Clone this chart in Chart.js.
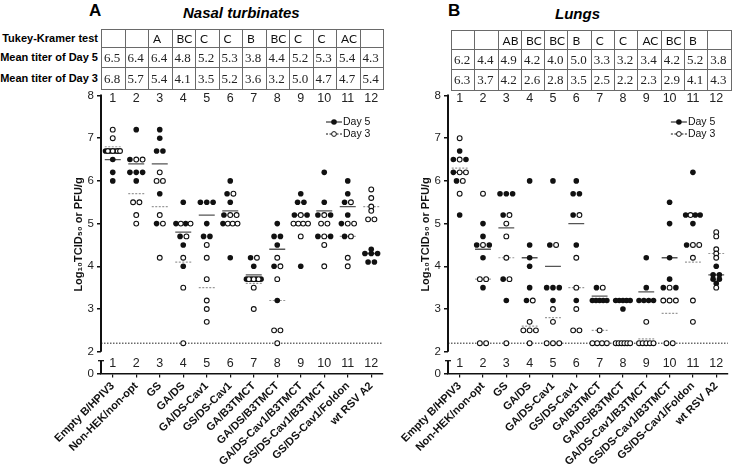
<!DOCTYPE html>
<html><head><meta charset="utf-8">
<script src="https://cdn.jsdelivr.net/npm/chart.js@4.4.0/dist/chart.umd.min.js"></script>
<style>
html,body{margin:0;padding:0;background:#fff;}
body{width:733px;height:471px;overflow:hidden;position:relative;font-family:"Liberation Sans",Arial,sans-serif;color:#000;}
canvas{position:absolute;top:0;}
.panel{position:absolute;font-weight:bold;font-size:17px;line-height:17px;}
.ttl{position:absolute;font-weight:bold;font-style:italic;font-size:15px;line-height:17px;white-space:nowrap;}
.rowlab{position:absolute;left:0;width:98px;text-align:right;font-weight:bold;font-size:11px;white-space:nowrap;}
table{position:absolute;border-collapse:collapse;table-layout:fixed;}
td{border:1px solid #6a6a6a;padding:0 0 0 2px;white-space:nowrap;overflow:hidden;box-sizing:border-box;}
td.v{font-family:"Liberation Serif",serif;font-size:13px;color:#222;}
td.t{font-family:Lato,"Open Sans",sans-serif;font-size:12px;padding-left:4px;color:#111;}
</style>
</head><body>
<div class="panel" style="left:89px;top:2px">A</div>
<div class="ttl" style="left:183px;top:4px">Nasal turbinates</div>
<div class="panel" style="left:448px;top:2px">B</div>
<div class="ttl" style="left:555px;top:5px">Lungs</div>
<div class="rowlab" style="top:32px">Tukey-Kramer test</div>
<div class="rowlab" style="top:51px">Mean titer of Day 5</div>
<div class="rowlab" style="top:72px">Mean titer of Day 3</div>
<canvas id="cA" width="390" height="471" style="left:0"></canvas>
<canvas id="cB" width="367" height="471" style="left:366px"></canvas>
<script>
// ---------------- data ----------------
const groups = ['Empty B/HPIV3','Non-HEK/non-opt','GS','GA/DS','GA/DS-Cav1','GS/DS-Cav1','GA/B3TMCT','GA/DS/B3TMCT','GA/DS-Cav1/B3TMCT','GS/DS-Cav1/B3TMCT','GS/DS-Cav1/Foldon','wt RSV A2'];
const groupNumbers = ['1','2','3','4','5','6','7','8','9','10','11','12'];
const yTickValues = [2,3,4,5,6,7,8];
const lodValue = 2.2;

const nasalTukey = ['','','A','BC','C','C','B','BC','C','C','AC',''];
const nasalMeanDay5 = [6.5,6.4,6.4,4.8,5.2,5.3,3.8,4.4,5.2,5.3,5.4,4.3];
const nasalMeanDay3 = [6.8,5.7,5.4,4.1,3.5,5.2,3.6,3.2,5.0,4.7,4.7,5.4];
const nasalDay5 = [
  [6.7,6.7,6.7,6.5,6.2,6.0],
  [7.2,6.5,6.2,6.2,6.2,6.0],
  [7.2,7.0,6.7,6.7,5.7,5.0],
  [5.5,5.0,5.0,4.7,4.5,4.0],
  [5.5,5.5,5.5,5.0,4.7,4.7],
  [6.0,5.7,5.5,5.2,5.0,4.2],
  [4.2,4.0,3.7,3.7,3.7,3.7],
  [5.0,4.7,4.7,4.5,4.0,3.2],
  [5.7,5.5,5.5,5.2,5.2,4.0],
  [6.2,5.5,5.2,5.2,4.7,4.7],
  [6.0,5.7,5.5,5.2,5.0,4.7],
  [4.4,4.3,4.3,4.3,4.1,4.1]
];
const nasalDay3 = [
  [7.2,7.0,6.7,6.7,6.7,6.7],
  [6.5,6.5,5.5,5.5,5.2,5.0],
  [6.2,6.0,6.0,5.2,5.0,4.2],
  [5.0,5.0,4.7,4.2,3.5,2.2],
  [4.5,4.2,3.7,3.2,3.0,2.7],
  [5.7,5.2,5.2,5.0,5.0,5.0],
  [4.2,3.7,3.7,3.7,3.5,3.0],
  [4.2,4.0,3.7,2.5,2.5,2.2],
  [5.2,5.0,5.0,5.0,5.0,4.7],
  [5.2,5.0,5.0,4.7,4.5,4.0],
  [5.5,5.0,5.0,4.7,4.2,4.0],
  [5.8,5.6,5.4,5.3,5.1,5.1]
];

const lungTukey = ['','','AB','BC','BC','B','C','C','AC','BC','B',''];
const lungMeanDay5 = [6.2,4.4,4.9,4.2,4.0,5.0,3.3,3.2,3.4,4.2,5.2,3.8];
const lungMeanDay3 = [6.3,3.7,4.2,2.6,2.8,3.5,2.5,2.2,2.3,2.9,4.1,4.3];
const lungDay5 = [
  [6.7,6.5,6.5,6.2,6.0,5.2],
  [5.0,4.7,4.5,4.5,4.2,3.5],
  [5.7,5.7,5.7,5.2,3.7,3.2],
  [6.0,4.5,4.2,4.0,3.5,3.2],
  [6.0,4.5,3.5,3.5,3.5,3.2],
  [6.0,5.7,5.7,5.2,4.5,3.2],
  [3.5,3.2,3.2,3.2,3.2,3.2],
  [3.2,3.2,3.2,3.2,3.2,3.0],
  [4.2,3.5,3.2,3.2,3.2,3.2],
  [5.5,5.0,4.2,3.7,3.5,3.5],
  [6.2,5.2,5.2,5.2,5.0,4.5],
  [4.0,3.8,3.8,3.7,3.7,3.6]
];
const lungDay3 = [
  [7.0,6.5,6.2,6.2,6.0,5.7],
  [5.7,4.5,3.7,3.7,2.2,2.2],
  [5.2,5.0,4.7,4.2,3.7,2.2],
  [3.2,2.7,2.5,2.5,2.5,2.2],
  [4.5,3.0,2.7,2.2,2.2,2.2],
  [5.2,4.2,3.5,3.0,2.5,2.5],
  [3.5,2.5,2.2,2.2,2.2,2.2],
  [2.2,2.2,2.2,2.2,2.2,2.2],
  [2.7,2.2,2.2,2.2,2.2,2.2],
  [3.5,3.2,3.2,3.2,2.2,2.2],
  [5.2,4.5,4.5,4.2,3.2,2.7],
  [4.8,4.7,4.4,4.3,4.2,3.5]
];

// ---------------- layout constants ----------------
const FONT = '"Liberation Sans", Arial, sans-serif';
const YMIN = 1.49;      // bottom of axis (labelled 0, broken axis)
const YBREAK = 1.79;    // start of the lower axis stub
const YNUMROW = 1.73;   // lower row of group numbers
const STEP = 0.27, SPAN = 0.62, HALF = 0.34;

function spread(d5, d3){
  const o5=[], o3=[];
  d5.forEach((vals,g)=>{
    const items=[];
    vals.forEach(v=>items.push({v,s:5}));
    d3[g].forEach(v=>items.push({v,s:3}));
    const rows={};
    items.forEach(it=>{const k=it.v.toFixed(2);(rows[k]=rows[k]||[]).push(it);});
    Object.values(rows).forEach(row=>{
      const f=row.filter(r=>r.s===5), o=row.filter(r=>r.s===3);
      const ordered=[]; let i=0,j=0;
      while(i<f.length||j<o.length){ if(i<f.length) ordered.push(f[i++]); if(j<o.length) ordered.push(o[j++]); }
      const k=ordered.length, st=k>1?Math.min(STEP,SPAN/(k-1)):0;
      ordered.forEach((it,n)=>{
        const p={x:g+1+(n-(k-1)/2)*st,y:it.v};
        (it.s===5?o5:o3).push(p);
      });
    });
  });
  return [o5,o3];
}
function meanSeg(means){
  const d=[];
  means.forEach((m,i)=>{d.push({x:i+1-HALF,y:m},{x:i+1+HALF,y:m},{x:i+1+HALF,y:null});});
  return d;
}

const extras = {
  id:'extras',
  afterDraw(chart){
    const {ctx, chartArea:a, scales:{x,y}} = chart;
    ctx.save();
    ctx.strokeStyle='#111';
    ctx.lineWidth=2;
    ctx.beginPath(); ctx.moveTo(a.left, y.getPixelForValue(8)-1); ctx.lineTo(a.left, y.getPixelForValue(2)); ctx.stroke();
    const yb=y.getPixelForValue(YBREAK);
    ctx.beginPath(); ctx.moveTo(a.left, yb); ctx.lineTo(a.left, a.bottom); ctx.stroke();
    ctx.lineWidth=1.3;
    ctx.beginPath(); ctx.moveTo(a.left-3, yb); ctx.lineTo(a.left+3, yb); ctx.stroke();
    // group numbers
    ctx.fillStyle='#222'; ctx.font='12.5px '+FONT; ctx.textAlign='center'; ctx.textBaseline='middle';
    groupNumbers.forEach((t,i)=>{
      const px=x.getPixelForValue(i+1);
      ctx.fillText(t,px,a.top+3.5);
      ctx.fillText(t,px,y.getPixelForValue(YNUMROW));
    });
    // legend
    const lx=a.right-57, ly1=a.top+26.5, ly2=a.top+38.5;
    ctx.lineWidth=1; ctx.strokeStyle='#111';
    ctx.beginPath(); ctx.moveTo(lx,ly1); ctx.lineTo(lx+16,ly1); ctx.stroke();
    ctx.fillStyle='#111'; ctx.beginPath(); ctx.arc(lx+8,ly1,2.8,0,Math.PI*2); ctx.fill();
    ctx.setLineDash([2,1.5]);
    ctx.beginPath(); ctx.moveTo(lx,ly2); ctx.lineTo(lx+16,ly2); ctx.stroke();
    ctx.setLineDash([]);
    ctx.fillStyle='#fff'; ctx.beginPath(); ctx.arc(lx+8,ly2,2.4,0,Math.PI*2); ctx.fill(); ctx.stroke();
    ctx.fillStyle='#111'; ctx.font='10.5px '+FONT; ctx.textAlign='left';
    ctx.fillText('Day 5',lx+17,ly1); ctx.fillText('Day 3',lx+17,ly2);
    ctx.restore();
  }
};

function makeChart(id, d5, d3, m5, m3, padL, padR){
  const [p5,p3]=spread(d5,d3);
  return new Chart(document.getElementById(id),{
    type:'scatter',
    data:{datasets:[
      {data:p3, pointRadius:2.4, pointBackgroundColor:'#fff', pointBorderColor:'#111', pointBorderWidth:1.1, showLine:false},
      {data:p5, pointRadius:2.8, pointBackgroundColor:'#111', pointBorderColor:'#111', pointBorderWidth:0, showLine:false},
      {data:meanSeg(m5), showLine:true, spanGaps:false, pointRadius:0, borderColor:'#555', borderWidth:1.3},
      {data:meanSeg(m3), showLine:true, spanGaps:false, pointRadius:0, borderColor:'#999', borderWidth:1.2, borderDash:[2,1.5]},
      {data:[{x:0.5,y:lodValue},{x:12.5,y:lodValue}], showLine:true, pointRadius:0, borderColor:'#222', borderWidth:1, borderDash:[1.5,1.5]}
    ]},
    options:{
      animation:false, responsive:false, devicePixelRatio:1,
      layout:{padding:{left:padL,right:padR,top:95.5,bottom:0}},
      plugins:{legend:{display:false},tooltip:{enabled:false}},
      scales:{
        x:{type:'linear',min:0.5,max:12.5,
          afterBuildTicks:s=>{s.ticks=groups.map((_,i)=>({value:i+1}));},
          afterFit:s=>{s.height=97.5;},
          ticks:{autoSkip:false,minRotation:45,maxRotation:45,padding:2,color:'#111',
            font:{family:FONT,size:11,weight:'bold'},
            callback:v=>groups[Math.round(v)-1]},
          grid:{display:true,drawOnChartArea:false,drawTicks:true,tickLength:4,color:'#111',lineWidth:1.2},
          border:{display:true,color:'#111',width:1.6}
        },
        y:{type:'linear',min:YMIN,max:8,
          afterBuildTicks:s=>{s.ticks=[YMIN].concat(yTickValues).map(v=>({value:v}));},
          afterFit:s=>{s.width=34;},
          ticks:{padding:3,color:'#222',font:{family:FONT,size:11.5},
            callback:v=>v===YMIN?'0':String(v)},
          grid:{display:true,drawOnChartArea:false,drawTicks:true,tickLength:4,color:'#111',lineWidth:1.5},
          border:{display:false},
          title:{display:true,text:'Log\u2081\u2080TCID\u2085\u2080 or PFU/g',color:'#111',
            font:{family:FONT,size:11,weight:'bold'},padding:{top:5.5,bottom:4}}
        }
      }
    },
    plugins:[extras]
  });
}
makeChart('cA', nasalDay5, nasalDay3, nasalMeanDay5, nasalMeanDay3, 67, 7);
makeChart('cB', lungDay5, lungDay3, lungMeanDay5, lungMeanDay3, 48, 2);

function buildTable(left, top, colW, heights, tukey, m5, m3){
  const t=document.createElement('table');
  t.style.left=left+'px'; t.style.top=top+'px'; t.style.width=(colW*12)+'px';
  const rows=[tukey.map(s=>({s,c:'t'})), m5.map(v=>({s:v.toFixed(1),c:'v'})), m3.map(v=>({s:v.toFixed(1),c:'v'}))];
  rows.forEach((r,ri)=>{
    const tr=document.createElement('tr'); tr.style.height=heights[ri]+'px';
    r.forEach(cell=>{const td=document.createElement('td'); td.className=cell.c; td.style.width=colW+'px'; td.textContent=cell.s; tr.appendChild(td);});
    t.appendChild(tr);
  });
  document.body.appendChild(t);
}
buildTable(101,29,23.5,[18,20,22],nasalTukey,nasalMeanDay5,nasalMeanDay3);
buildTable(451,30,23.3,[19,20,21],lungTukey,lungMeanDay5,lungMeanDay3);
</script>
</body></html>
